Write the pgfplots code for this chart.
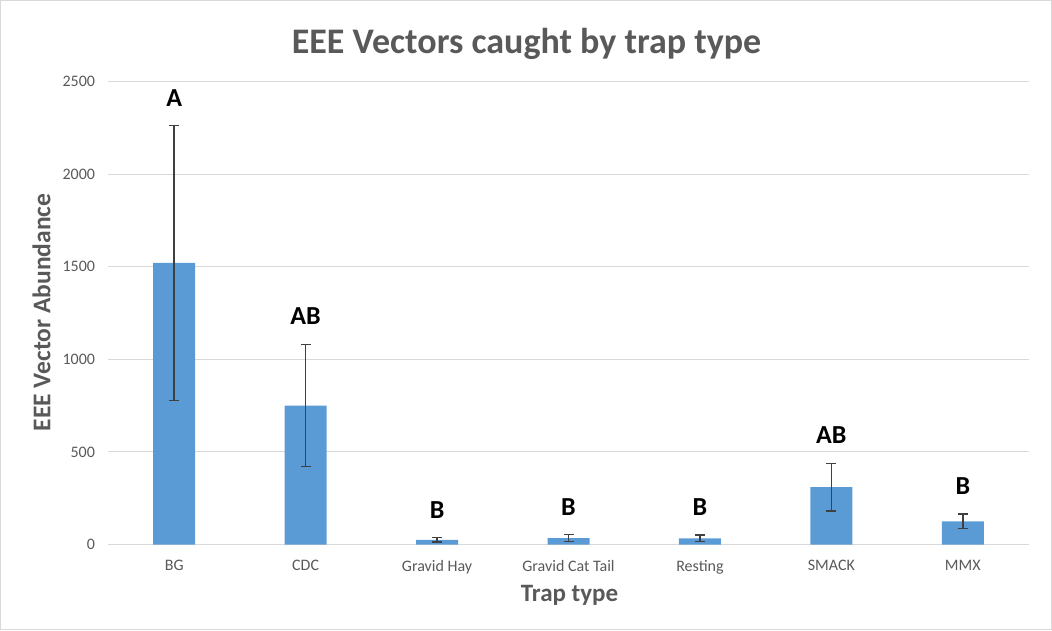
\documentclass[border=0pt]{standalone}
\usepackage{fontspec}
\setmainfont{Carlito}
\usepackage{pgfplots}
\pgfplotsset{compat=1.18}
\definecolor{barblue}{HTML}{5B9BD5}
\definecolor{txtgray}{HTML}{595959}
\definecolor{gridgray}{HTML}{D9D9D9}
\definecolor{errgray}{HTML}{404040}

\begin{document}
\begin{tikzpicture}
% frame of the chart area
\draw[gridgray,line width=1pt] (-108pt,-85pt) rectangle (943pt,544pt);
\begin{axis}[
  scale only axis,width=920pt,height=463pt,
  at={(0pt,0pt)},anchor=south west,
  xmin=-0.5,xmax=6.5,ymin=0,ymax=2500,
  ytick={0,500,...,2500},
  xtick={0,...,6},
  xticklabels={BG,CDC,Gravid Hay,Gravid Cat Tail,Resting,SMACK,MMX},
  major tick length=0pt,
  axis x line*=bottom,
  axis y line*=left,
  y axis line style={draw=none},
  x axis line style={gridgray,line width=1pt,-},
  ymajorgrids=true,grid style={gridgray,line width=1pt},
  tick label style={font=\fontsize{16}{18}\selectfont,text=txtgray},
  /pgf/number format/assume math mode=true,
  /pgf/number format/set thousands separator={},
  yticklabel style={xshift=-10pt},
  xticklabel style={yshift=-12pt},
  clip=false,
]
\addplot[ybar,bar width=42pt,fill=barblue,draw=none,
  error bars/.cd,y dir=both,y explicit,
  error bar style={errgray,line width=1.5pt},
  error mark options={errgray,line width=1.5pt,mark size=5pt,rotate=90}]
  table[x=x,y=y,y error=e]{
x y e
0 1520 742
1 750 330
2 25 12
3 34 19
4 33 18
5 310 128
6 125 39
};
\addplot[draw=none,mark=none,nodes near coords,point meta=explicit symbolic,
  nodes near coords style={font=\bfseries\fontsize{26}{28}\selectfont,text=black,anchor=south,yshift=16pt}]
  table[x=x,y=y,meta=lab]{
x y lab
0 2262 A
1 1080 AB
2 37 B
3 53 B
4 51 B
5 438 AB
6 164 B
};
\end{axis}
\node[font=\bfseries\fontsize{36}{40}\selectfont,text=txtgray] at (418pt,501pt) {EEE Vectors caught by trap type};
\node[font=\bfseries\fontsize{25.5}{28}\selectfont,text=txtgray,rotate=90] at (-67pt,232pt) {EEE Vector Abundance};
\node[font=\bfseries\fontsize{25}{28}\selectfont,text=txtgray] at (461pt,-51pt) {Trap type};
\end{tikzpicture}
\end{document}
